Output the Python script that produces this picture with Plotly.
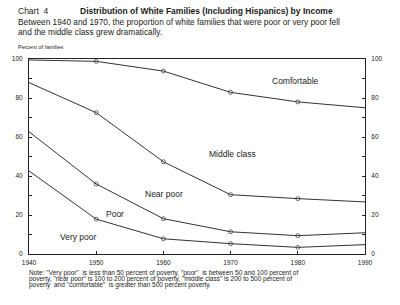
import plotly.graph_objects as go

years = [1940, 1950, 1960, 1970, 1980, 1990]
# cumulative boundaries (percent of families)
comfortable_line = [99.5, 98.8, 93.8, 82.9, 78.0, 75.0]
middle_line = [87.9, 72.5, 47.3, 30.4, 28.4, 26.7]
near_poor_line = [62.7, 35.9, 18.1, 11.4, 9.4, 10.9]
poor_line = [42.6, 17.9, 7.8, 5.3, 3.4, 4.8]
y_tickvals = [0, 10, 20, 30, 40, 50, 60, 70, 80, 90, 100]
y_ticktext = ["0", "", "20", "", "40", "", "60", "", "80", "", "100"]

W, H = 400, 305
L, R, T, B = 14, 365, 59, 254
INK = "#222222"
FONT = "Liberation Sans, Arial, sans-serif"

def px(x):
    return (x - L) / (R - L)

def py(y):
    return (B - y) / (B - T)

fig = go.Figure()
msize = [0, 4, 4, 4, 4, 0]
for s in [comfortable_line, middle_line, near_poor_line, poor_line]:
    fig.add_trace(go.Scatter(
        x=years, y=s, mode="lines+markers",
        line=dict(color="#333333", width=1),
        marker=dict(symbol="circle-open", size=msize, color="#333333", line=dict(width=1)),
        showlegend=False, hoverinfo="skip"))
# dummy trace for right axis
fig.add_trace(go.Scatter(x=[1940], y=[0], yaxis="y2", mode="markers",
                         marker=dict(size=0, opacity=0), showlegend=False, hoverinfo="skip"))

axis_common = dict(showgrid=False, zeroline=False, showline=True, linecolor=INK, linewidth=1,
                   ticks="inside", ticklen=3, tickcolor=INK,
                   tickfont=dict(family=FONT, size=6.5, color=INK))
fig.update_layout(
    width=W, height=H, autosize=False,
    margin=dict(l=L, r=W - R, t=T, b=H - B, pad=0),
    paper_bgcolor="white", plot_bgcolor="white",
    xaxis=dict(range=[1940, 1990], tickvals=years, mirror=True, ticklabelstandoff=2, **axis_common),
    yaxis=dict(range=[0, 100], tickvals=y_tickvals, ticktext=y_ticktext, mirror=True,
               ticklabelstandoff=4, **axis_common),
    yaxis2=dict(range=[0, 100], tickvals=y_tickvals, ticktext=y_ticktext, overlaying="y", side="right",
                ticklabelstandoff=4, **axis_common),
)

def ann(text, x, y, size, xanchor="center", bold=False):
    if bold:
        text = "<b>" + text + "</b>"
    fig.add_annotation(text=text, x=px(x), y=py(y), xref="paper", yref="paper",
                       xanchor=xanchor, yanchor="middle", showarrow=False,
                       font=dict(family=FONT, size=size, color=INK))

ann("Chart  4", 0, 11, 8.5, xanchor="left")
ann("Distribution of White Families (Including Hispanics) by Income", 65, 11, 8.5, xanchor="left", bold=True)
ann("Between 1940 and 1970, the proportion of white families that were poor or very poor fell", 0, 22, 8.3, xanchor="left")
ann("and the middle class grew dramatically.", 0, 32, 8.3, xanchor="left")
ann("Percent of families", 0, 47, 5.5, xanchor="left")

ann("Comfortable", 292, 81, 8.5)
ann("Middle class", 227, 154, 8.5)
ann("Near poor", 155, 194, 8.5)
ann("Poor", 103.5, 214, 8.5)
ann("Very poor", 65.5, 237, 8.5)

ann("Note: \"Very poor\"  is less than 50 percent of poverty, \"poor\"  is between 50 and 100 percent of", 12, 273, 6.5, xanchor="left")
ann("poverty, \"near poor\" is 100 to 200 percent of poverty, \"middle class\" is 200 to 500 percent of", 12, 279, 6.5, xanchor="left")
ann("poverty  and \"comfortable\"  is greater than 500 percent poverty.", 12, 285, 6.5, xanchor="left")

fig.write_html("out.html")
